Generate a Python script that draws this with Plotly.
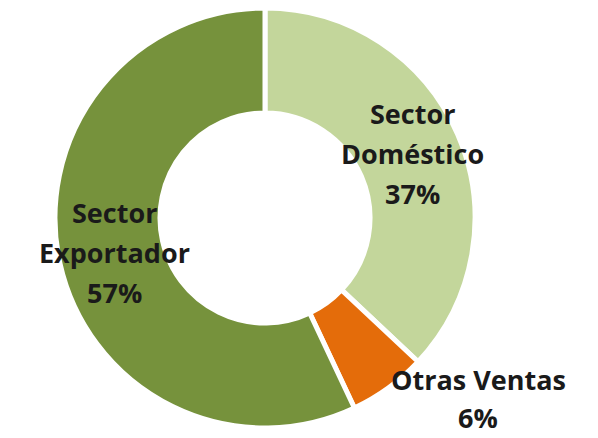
import plotly.graph_objects as go

labels = ["Sector Doméstico", "Otras Ventas", "Sector Exportador"]
label_lines = [["Sector", "Doméstico"], ["Otras Ventas"], ["Sector", "Exportador"]]
values = [37, 6, 57]
colors = ["#C3D69B", "#E46C0A", "#76923C"]

W, H = 598, 438
cx, cy, r = 265, 218, 210

fig = go.Figure(go.Pie(
    labels=labels, values=values, sort=False, direction="clockwise", rotation=0,
    hole=0.5, textinfo="none", hoverinfo="label+percent",
    marker=dict(colors=colors, line=dict(color="white", width=5)),
    domain=dict(x=[(cx - r) / W, (cx + r) / W], y=[(H - cy - r) / H, (H - cy + r) / H]),
    showlegend=False,
))

# label anchor (pixel) positions for each slice's text block: center x, first line y
label_pos = [(412, 113), (478, 379), (114, 212)]
spacing = 40
font = dict(family="Open Sans", size=27, color="#1a1a1a")
anns = []
for lines, v, (px, py) in zip(label_lines, values, label_pos):
    all_lines = lines + [f"{v}%"]
    for i, t in enumerate(all_lines):
        y = py + i * (spacing - (2 if len(lines) == 1 else 0))
        anns.append(dict(x=px / W, y=1 - y / H, xref="paper", yref="paper",
                         text=f"<b>{t}</b>", showarrow=False, font=font,
                         xanchor="center", yanchor="middle"))

fig.update_layout(width=W, height=H, margin=dict(l=0, r=0, t=0, b=0),
                  paper_bgcolor="white", plot_bgcolor="white", annotations=anns)
fig.write_html("out.html", config={"displayModeBar": False},
               post_script="document.body.style.margin='0';document.body.style.overflow='hidden';")
